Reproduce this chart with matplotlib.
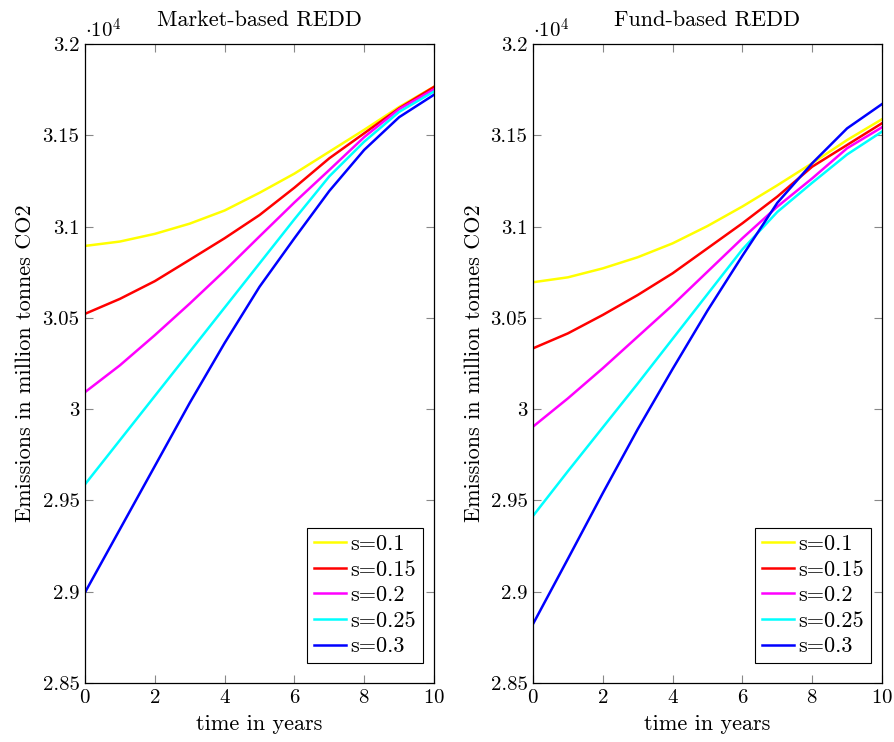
import matplotlib
matplotlib.use("Agg")
import matplotlib.pyplot as plt
from matplotlib.ticker import FuncFormatter

plt.rcParams['font.family'] = ['cmr10', 'DejaVu Serif']
plt.rcParams['mathtext.fontset'] = 'cm'
plt.rcParams['axes.formatter.use_mathtext'] = True

years = [0, 1, 2, 3, 4, 5, 6, 7, 8, 9, 10]
labels = ["s=0.1", "s=0.15", "s=0.2", "s=0.25", "s=0.3"]
colors = ["#ffff00", "#ff0000", "#ff00ff", "#00ffff", "#0000ff"]

# market-based REDD, million tonnes CO2
market_s010 = [30894, 30918, 30960, 31016, 31088, 31185, 31290, 31410, 31530, 31655, 31766]
market_s015 = [30522, 30604, 30701, 30818, 30936, 31063, 31213, 31374, 31511, 31648, 31765]
market_s020 = [30093, 30240, 30405, 30578, 30758, 30946, 31132, 31310, 31490, 31643, 31752]
market_s025 = [29588, 29830, 30072, 30314, 30556, 30798, 31040, 31275, 31465, 31628, 31740]
market_s030 = [28996, 29342, 29688, 30034, 30362, 30670, 30936, 31195, 31420, 31599, 31722]

# fund-based REDD
fund_s010 = [30695, 30722, 30771, 30832, 30908, 31003, 31110, 31226, 31347, 31474, 31588]
fund_s015 = [30333, 30415, 30516, 30625, 30744, 30881, 31018, 31164, 31328, 31447, 31566]
fund_s020 = [29904, 30059, 30224, 30397, 30570, 30753, 30936, 31109, 31264, 31429, 31544]
fund_s025 = [29415, 29660, 29900, 30140, 30385, 30630, 30875, 31080, 31240, 31395, 31520]
fund_s030 = [28823, 29180, 29540, 29890, 30220, 30540, 30840, 31130, 31347, 31538, 31671]

panels = [
    ("Market-based REDD", [market_s010, market_s015, market_s020, market_s025, market_s030]),
    ("Fund-based REDD", [fund_s010, fund_s015, fund_s020, fund_s025, fund_s030]),
]

fig = plt.figure(figsize=(8.94, 7.42), dpi=100)
lefts = [85 / 894, 533 / 894]

for left, (title, series) in zip(lefts, panels):
    ax = fig.add_axes([left, 59 / 742, 349 / 894, 639 / 742])
    for vals, lab, col in zip(series, labels, colors):
        ax.plot(years, vals, color=col, lw=1.8, label=lab)
    ax.set_xlim(0, 10)
    ax.set_ylim(28500, 32000)
    ax.set_xticks([0, 2, 4, 6, 8, 10])
    ax.set_yticks([28500, 29000, 29500, 30000, 30500, 31000, 31500, 32000])
    ax.yaxis.set_major_formatter(FuncFormatter(lambda v, p: "%g" % (v / 1e4)))
    ax.tick_params(direction='in', top=True, right=True, length=6, width=0.8,
                   color='#888888', labelsize=15, pad=4)
    for sp in ax.spines.values():
        sp.set_linewidth(0.9)
    ax.set_title(title, fontsize=16, pad=13)
    ax.set_xlabel("time in years", fontsize=16, labelpad=6)
    ax.set_ylabel("Emissions in million tonnes CO2", fontsize=16, labelpad=5)
    ax.text(0.0, 1.004, r"$\cdot 10^4$", transform=ax.transAxes, fontsize=15,
            ha='left', va='bottom')
    leg = ax.legend(loc='lower right', bbox_to_anchor=(1 - 11 / 349, 20 / 639),
                    borderaxespad=0, fontsize=16, fancybox=False, framealpha=1,
                    edgecolor='black', handlelength=1.45, handletextpad=0.2,
                    labelspacing=0.27, borderpad=0.3)
    leg.get_frame().set_linewidth(0.8)

fig.savefig("out.png", dpi=100)
